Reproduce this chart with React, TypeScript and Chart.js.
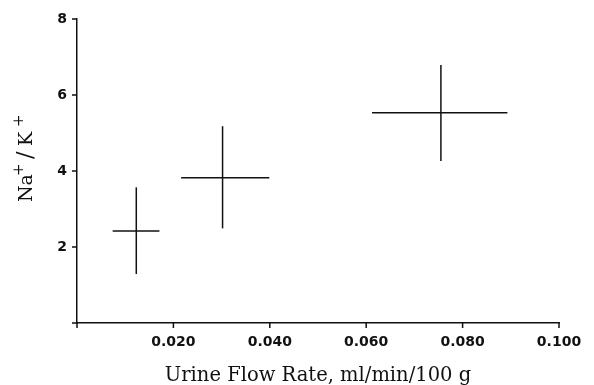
import React, { useEffect, useRef } from "react";
import { Chart, registerables } from "chart.js";

Chart.register(...registerables);

// Urine flow rate (ml/min/100 g): mean and horizontal error-bar ends
const flowMean = [0.0123, 0.0302, 0.0755];
const flowLow = [0.0074, 0.0216, 0.0612];
const flowHigh = [0.0171, 0.0399, 0.0893];
// Na+/K+ ratio: mean and vertical error-bar ends
const ratioMean = [2.42, 3.82, 5.53];
const ratioLow = [1.29, 2.49, 4.26];
const ratioHigh = [3.57, 5.18, 6.79];

const xTicks = [0, 0.02, 0.04, 0.06, 0.08, 0.1];
const yTicks = [0, 2, 4, 6, 8];

const xTitle = "Urine Flow Rate, ml/min/100 g";
// y title pieces: [text, isSuperscript]
const yTitleParts: [string, boolean][] = [
  ["Na", false],
  ["+", true],
  ["/", false],
  ["K", false],
  ["+", true],
];
const yTitleOffsets = [0, 26, 43, 56, 75];
const yTitleSizes = [19, 15, 22, 19, 15];

const yTitlePlugin = {
  id: "yTitleRich",
  afterDraw(chart: any) {
    const ctx = chart.ctx as CanvasRenderingContext2D;
    const area = chart.chartArea;
    ctx.save();
    ctx.translate(32, area.top + 183);
    ctx.rotate(-Math.PI / 2);
    ctx.fillStyle = "#111";
    ctx.textBaseline = "alphabetic";
    ctx.textAlign = "left";
    yTitleParts.forEach(([t, sup], i) => {
      ctx.font = `${yTitleSizes[i]}px 'DejaVu Serif'`;
      ctx.fillText(t, yTitleOffsets[i], sup ? -9 : 0);
    });
    ctx.restore();
  },
};

// short outward tick marks on both axes, placed through the scales
const tickMarkPlugin = {
  id: "tickMarks",
  afterDraw(chart: any) {
    const ctx = chart.ctx as CanvasRenderingContext2D;
    const xs = chart.scales.x;
    const ys = chart.scales.y;
    const area = chart.chartArea;
    ctx.save();
    ctx.strokeStyle = "#111";
    ctx.lineWidth = 1.5;
    ctx.beginPath();
    xTicks.forEach((v) => {
      const px = xs.getPixelForValue(v);
      ctx.moveTo(px, area.bottom);
      ctx.lineTo(px, area.bottom + 5);
    });
    yTicks.forEach((v) => {
      const py = ys.getPixelForValue(v);
      ctx.moveTo(area.left, py);
      ctx.lineTo(area.left - 5, py);
    });
    ctx.stroke();
    ctx.restore();
  },
};

export default function App() {
  const ref = useRef<HTMLCanvasElement | null>(null);

  useEffect(() => {
    if (!ref.current) return;
    const line = {
      type: "scatter" as const,
      showLine: true,
      pointRadius: 0,
      borderColor: "#111",
      borderWidth: 1.5,
    };
    const datasets: any[] = [];
    for (let i = 0; i < flowMean.length; i++) {
      datasets.push({
        ...line,
        data: [
          { x: flowLow[i], y: ratioMean[i] },
          { x: flowHigh[i], y: ratioMean[i] },
        ],
      });
      datasets.push({
        ...line,
        data: [
          { x: flowMean[i], y: ratioLow[i] },
          { x: flowMean[i], y: ratioHigh[i] },
        ],
      });
    }
    const tickFont = { family: "'DejaVu Sans'", size: 14, weight: "bold" as const };
    const titleFont = { family: "'DejaVu Serif'", size: 19.5 };
    const gridOpts = { display: false, drawTicks: false };
    const chart = new Chart(ref.current, {
      type: "scatter",
      data: { datasets },
      plugins: [yTitlePlugin, tickMarkPlugin],
      options: {
        animation: false,
        responsive: false,
        layout: { padding: { top: 19, right: 35, left: 0, bottom: 0 } },
        plugins: { legend: { display: false }, tooltip: { enabled: false } },
        scales: {
          x: {
            type: "linear",
            min: 0,
            max: 0.1,
            afterFit: (s: any) => {
              s.height = 62;
            },
            afterBuildTicks: (s: any) => {
              s.ticks = xTicks.map((v) => ({ value: v }));
            },
            grid: gridOpts,
            border: { display: true, color: "#111", width: 1.5 },
            ticks: {
              color: "#111",
              font: tickFont,
              padding: 11,
              maxRotation: 0,
              callback: (v: any) => (Number(v) === 0 ? "" : Number(v).toFixed(3)),
            },
            title: { display: true, text: xTitle, color: "#111", font: titleFont, padding: { top: 0, bottom: -3 } },
          },
          y: {
            type: "linear",
            min: 0,
            max: 8,
            afterFit: (s: any) => {
              s.width = 77;
            },
            afterBuildTicks: (s: any) => {
              s.ticks = yTicks.map((v) => ({ value: v }));
            },
            grid: gridOpts,
            border: { display: true, color: "#111", width: 1.5 },
            ticks: {
              color: "#111",
              font: tickFont,
              padding: 10,
              callback: (v: any) => (Number(v) === 0 ? "" : String(v)),
            },
            title: { display: false },
          },
        },
      },
    });
    return () => chart.destroy();
  }, []);

  return (
    <div style={{ position: "absolute", left: 0, top: 0, width: 594, height: 385, background: "#fff" }}>
      <canvas ref={ref} width={594} height={385} style={{ width: 594, height: 385, display: "block" }} />
    </div>
  );
}
